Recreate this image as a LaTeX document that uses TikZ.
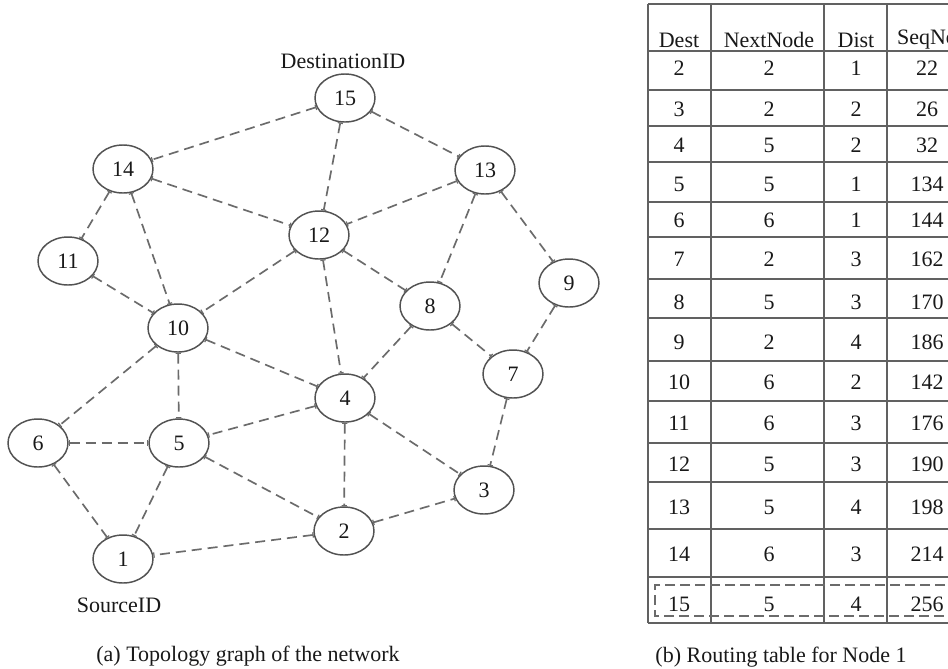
\documentclass[tikz,border=0pt]{standalone}
\usepackage{fontspec}
\setmainfont{Liberation Serif}
\usetikzlibrary{shapes.geometric,arrows.meta}
\begin{document}
\begin{tikzpicture}[x=0.75pt,y=-0.75pt,
  txt/.style={font=\fontsize{16.5}{19}\selectfont,text=black!90,inner sep=0pt},
  vertex/.style={ellipse,draw=black!68,line width=1.1pt,minimum width=45pt,
    minimum height=36pt,inner sep=0pt,txt},
  link/.style={draw=black!58,line width=1.25pt,dash pattern=on 7.5pt off 4.5pt,
    {Bar[width=4pt,line width=0.9pt]}-{Bar[width=4pt,line width=0.9pt]}},
  rule/.style={draw=black!62,line width=1.3pt},
  dashrule/.style={draw=black!58,line width=1.3pt,dash pattern=on 7.5pt off 3.75pt},
  cell/.style={txt,anchor=center}
]
\useasboundingbox (0,0) rectangle (948,668);
\fill[white] (0,0) rectangle (948,668);
\clip (0,0) rectangle (948,668);

% ---------- (a) topology graph ----------
\node[vertex] (n15) at (345,98)  {15};
\node[vertex] (n14) at (123,169) {14};
\node[vertex] (n13) at (485,170) {13};
\node[vertex] (n12) at (319,235) {12};
\node[vertex] (n11) at (68,261)  {11};
\node[vertex] (n9)  at (569,283) {9};
\node[vertex] (n8)  at (430,306) {8};
\node[vertex] (n10) at (178,328) {10};
\node[vertex] (n7)  at (513,374) {7};
\node[vertex] (n4)  at (345,398) {4};
\node[vertex] (n6)  at (38,443)  {6};
\node[vertex] (n5)  at (179,443) {5};
\node[vertex] (n3)  at (484,490) {3};
\node[vertex] (n2)  at (344,531) {2};
\node[vertex] (n1)  at (123,559) {1};

\node[txt] (dst) at (343,61)  {DestinationID};
\node[txt] (src) at (119,605) {SourceID};
\node[txt] (capa) at (248,656) {(a) Topology graph of the network};

\foreach \a/\b in {n15/n14,n15/n12,n15/n13,
                   n14/n12,n14/n11,n14/n10,
                   n13/n12,n13/n8,n13/n9,
                   n12/n10,n12/n8,n12/n4,
                   n11/n10,
                   n10/n4,n10/n5,n10/n6,
                   n8/n4,n8/n7,
                   n9/n7,n7/n3,
                   n4/n5,n4/n2,n4/n3,
                   n6/n5,n6/n1,
                   n5/n1,n5/n2,
                   n2/n1,n2/n3}
  \draw[link] (\a) -- (\b);

% ---------- (b) routing table ----------
% horizontal rules
\foreach \y in {4,51,90,126,162,202,237,279,318,361,401,443,482,529,577,623}
  \draw[rule] (648,\y) -- (960,\y);
% vertical rules
\foreach \x in {648,711,824,887}
  \draw[rule] (\x,4) -- (\x,623);

% header (the last column runs past the right edge)
\node[cell] (hdest) at (679,40) {Dest};
\node[cell] (hnext) at (769,40) {NextNode};
\node[cell] (hdist) at (856,40) {Dist};
\node[cell] (hseq)  at (927,40) {SeqNo};

% rows
\foreach \y/\d/\n/\s/\q in {68/2/2/1/22, 109/3/2/2/26, 145/4/5/2/32,
    184/5/5/1/134, 220/6/6/1/144, 259/7/2/3/162, 302/8/5/3/170,
    342/9/2/4/186, 382/10/6/2/142, 423/11/6/3/176, 464/12/5/3/190,
    507/13/5/4/198, 554/14/6/3/214, 604/15/5/4/256}{
  \node[cell] (d\d) at (679,\y) {\d};
  \node[cell] (x\d) at (769,\y) {\n};
  \node[cell] (t\d) at (856,\y) {\s};
  \node[cell] (q\d) at (927,\y) {\q};
}

% highlighted last entry
\draw[dashrule] (960,585) -- (655,585) -- (655,616) -- (960,616);

\node[txt] (capb) at (781,657) {(b) Routing table for Node 1};
\end{tikzpicture}
\end{document}
